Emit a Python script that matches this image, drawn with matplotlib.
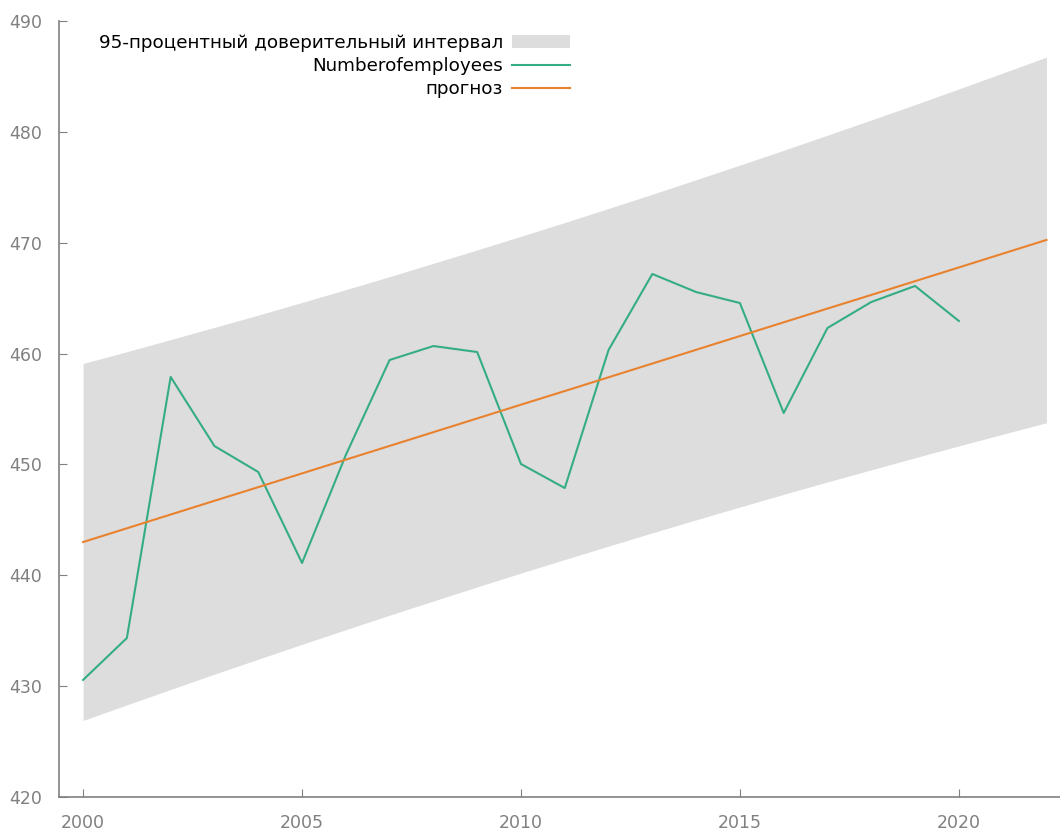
import matplotlib.pyplot as plt

years = list(range(2000, 2021))
employees = [430.56, 434.34, 457.89, 451.66, 449.32, 441.11, 450.85, 459.42, 460.68, 460.14,
             450.04, 447.87, 460.32, 467.18, 465.55, 464.56, 454.64, 462.31, 464.65, 466.10, 462.94]

fc_years = list(range(2000, 2023))
forecast = [443.00, 444.24, 445.48, 446.72, 447.95, 449.19, 450.43, 451.67, 452.91, 454.15,
            455.39, 456.62, 457.86, 459.10, 460.34, 461.58, 462.82, 464.06, 465.29, 466.53,
            467.77, 469.01, 470.25]
upper = [459.10, 460.17, 461.26, 462.36, 463.47, 464.61, 465.77, 466.94, 468.14, 469.35,
         470.58, 471.82, 473.09, 474.37, 475.68, 477.00, 478.34, 479.70, 481.07, 482.46,
         483.87, 485.30, 486.74]
lower = [426.90, 428.31, 429.70, 431.08, 432.43, 433.77, 435.09, 436.40, 437.68, 438.95,
         440.20, 441.42, 442.63, 443.83, 445.00, 446.16, 447.30, 448.42, 449.51, 450.60,
         451.67, 452.72, 453.76]

xticks = [2000, 2005, 2010, 2015, 2020]
yticks = [420, 430, 440, 450, 460, 470, 480, 490]

fig = plt.figure(figsize=(10.6, 8.3), dpi=100)
ax = fig.add_axes([59 / 1060, 33 / 830, 1 - 59 / 1060, 776 / 830])

ax.fill_between(fc_years, lower, upper, color="#dddddd", linewidth=0,
                label="95-процентный доверительный интервал")
ax.plot(years, employees, color="#35ad84", linewidth=1.5, label="Numberofemployees")
ax.plot(fc_years, forecast, color="#e8822e", linewidth=1.5, label="прогноз")

ax.set_xlim(1999.45, 2022.31)
ax.set_ylim(420, 490)
ax.set_xticks(xticks)
ax.set_yticks(yticks)

for side in ["top", "right"]:
    ax.spines[side].set_visible(False)
for side in ["left", "bottom"]:
    ax.spines[side].set_color("#808080")
    ax.spines[side].set_linewidth(1.2)
ax.tick_params(direction="in", length=6, color="#808080", labelcolor="#808080",
               labelsize=12.5, pad=12)

leg = ax.legend(loc="upper right", bbox_to_anchor=(511 / 1001, 0.983), markerfirst=False,
                frameon=False, fontsize=13.2, handlelength=3.15, handletextpad=0.5,
                labelspacing=0.28, borderpad=0, borderaxespad=0)
for t in leg.get_texts():
    t.set_ha("right")
leg._legend_box.align = "right"

fig.savefig("out.png", dpi=100)
